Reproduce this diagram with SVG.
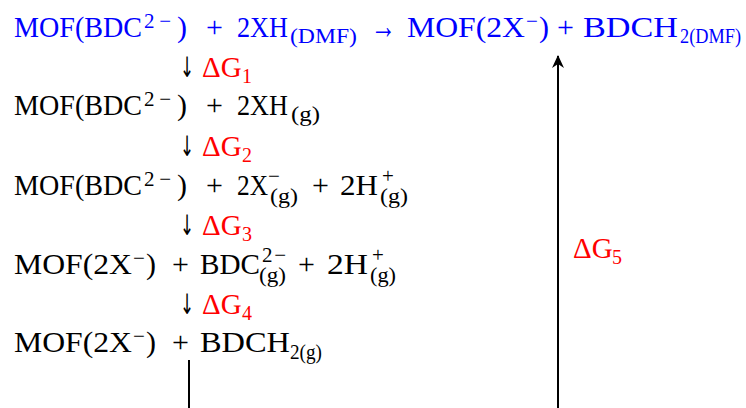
<svg xmlns="http://www.w3.org/2000/svg" width="746" height="408" viewBox="0 0 746 408">
<style>
text { font-family: "Liberation Serif", "DejaVu Serif", serif; font-size: 30px; fill: #000; }
.s { font-size: 21px; }
.b text { fill: #0000ff; }
.r { fill: #ff0000; font-size: 29px; }
.rs { fill: #ff0000; font-size: 20px; }
.ar { font-family: "DejaVu Sans", sans-serif; font-size: 28px; }
.ln { stroke: #000; stroke-width: 2; fill: none; }
</style>
<defs>
<marker id="ah" viewBox="0 0 14 14" refX="12" refY="7" markerWidth="14" markerHeight="14" markerUnits="userSpaceOnUse" orient="auto">
<path d="M0,1 L13,7 L0,13 L4,7 Z" fill="#000"/>
</marker>
</defs>
<g id="eq1" class="b">
<text x="14" y="37" textLength="128" lengthAdjust="spacingAndGlyphs">MOF(BDC</text>
<text class="s" x="144" y="28" textLength="27">2−</text>
<text x="177" y="37">)</text>
<text x="206" y="37">+</text>
<text x="237" y="37" textLength="51" lengthAdjust="spacingAndGlyphs">2XH</text>
<text class="s" x="290" y="43" textLength="67" lengthAdjust="spacingAndGlyphs">(DMF)</text>
<text x="371" y="38" style="font-size:36px" textLength="25" lengthAdjust="spacingAndGlyphs">→</text>
<text x="407" y="37" textLength="118" lengthAdjust="spacingAndGlyphs">MOF(2X</text>
<text class="s" x="526" y="28">−</text>
<text x="539" y="37">)</text>
<text x="557" y="37">+</text>
<text x="583" y="37" textLength="95" lengthAdjust="spacingAndGlyphs">BDCH</text>
<text class="s" x="680" y="43" textLength="61" lengthAdjust="spacingAndGlyphs">2(DMF)</text>
</g>
<g id="eq2">
<text x="14" y="115" textLength="128" lengthAdjust="spacingAndGlyphs">MOF(BDC</text>
<text class="s" x="144" y="106" textLength="27">2−</text>
<text x="177" y="115">)</text>
<text x="206" y="115">+</text>
<text x="237" y="115" textLength="51" lengthAdjust="spacingAndGlyphs">2XH</text>
<text class="s" x="291" y="121" textLength="29" lengthAdjust="spacingAndGlyphs">(g)</text>
</g>
<g id="eq3">
<text x="14" y="195" textLength="128" lengthAdjust="spacingAndGlyphs">MOF(BDC</text>
<text class="s" x="144" y="186" textLength="27">2−</text>
<text x="177" y="195">)</text>
<text x="206" y="195">+</text>
<text x="237" y="195" textLength="31" lengthAdjust="spacingAndGlyphs">2X</text>
<text class="s" x="268" y="183">−</text>
<text class="s" x="270" y="203" textLength="28" lengthAdjust="spacingAndGlyphs">(g)</text>
<text x="312" y="195">+</text>
<text x="340" y="195" textLength="38" lengthAdjust="spacingAndGlyphs">2H</text>
<text class="s" x="382" y="183">+</text>
<text class="s" x="380" y="203" textLength="28" lengthAdjust="spacingAndGlyphs">(g)</text>
</g>
<g id="eq4">
<text x="14" y="274" textLength="118" lengthAdjust="spacingAndGlyphs">MOF(2X</text>
<text class="s" x="133" y="265">−</text>
<text x="146" y="274">)</text>
<text x="172" y="274">+</text>
<text x="200" y="274" textLength="60" lengthAdjust="spacingAndGlyphs">BDC</text>
<text class="s" x="262" y="262" textLength="24">2−</text>
<text class="s" x="259" y="282" textLength="27" lengthAdjust="spacingAndGlyphs">(g)</text>
<text x="298" y="274">+</text>
<text x="327" y="274" textLength="41" lengthAdjust="spacingAndGlyphs">2H</text>
<text class="s" x="372" y="262">+</text>
<text class="s" x="370" y="282" textLength="26" lengthAdjust="spacingAndGlyphs">(g)</text>
</g>
<g id="eq5">
<text x="14" y="352" textLength="118" lengthAdjust="spacingAndGlyphs">MOF(2X</text>
<text class="s" x="133" y="343">−</text>
<text x="146" y="352">)</text>
<text x="172" y="352">+</text>
<text x="200" y="352" textLength="90" lengthAdjust="spacingAndGlyphs">BDCH</text>
<text class="s" x="290" y="359" textLength="32" lengthAdjust="spacingAndGlyphs">2(g)</text>
</g>
<g id="steps">
<text class="ar" transform="translate(180,77) scale(0.6,1)">↓</text>
<text class="r" x="202" y="77">ΔG</text><text class="rs" x="242" y="83">1</text>
<text class="ar" transform="translate(180,156) scale(0.6,1)">↓</text>
<text class="r" x="202" y="156">ΔG</text><text class="rs" x="242" y="162">2</text>
<text class="ar" transform="translate(180,235) scale(0.6,1)">↓</text>
<text class="r" x="202" y="235">ΔG</text><text class="rs" x="242" y="241">3</text>
<text class="ar" transform="translate(180,314) scale(0.6,1)">↓</text>
<text class="r" x="202" y="314">ΔG</text><text class="rs" x="242" y="320">4</text>
<text class="r" x="573" y="258">ΔG</text><text class="rs" x="612" y="264">5</text>
</g>
<g id="connectors">
<line class="ln" x1="189" y1="360" x2="189" y2="408"/>
<line class="ln" x1="558" y1="408" x2="558" y2="56" marker-end="url(#ah)"/>
</g>
</svg>
